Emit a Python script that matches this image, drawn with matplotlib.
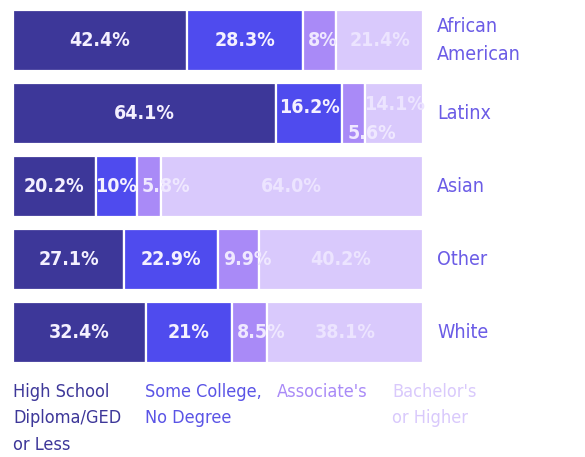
import matplotlib
matplotlib.use('Agg')
import matplotlib.pyplot as plt
import numpy as np

groups = ['African\nAmerican', 'Latinx', 'Asian', 'Other', 'White']
levels = ["High School\nDiploma/GED\nor Less", "Some College,\nNo Degree", "Associate's", "Bachelor's\nor Higher"]
hs = [42.4, 64.1, 20.2, 27.1, 32.4]
some_college = [28.3, 16.2, 10.0, 22.9, 21.0]
associates = [8.0, 5.6, 5.8, 9.9, 8.5]
bachelors = [21.4, 14.1, 64.0, 40.2, 38.1]
value_labels = [
    ['42.4%', '28.3%', '8%', '21.4%'],
    ['64.1%', '16.2%', '5.6%', '14.1%'],
    ['20.2%', '10%', '5.8%', '64.0%'],
    ['27.1%', '22.9%', '9.9%', '40.2%'],
    ['32.4%', '21%', '8.5%', '38.1%'],
]

colors = ['#3d3799', '#4f4bee', '#a98af7', '#d9c9fc']
text_colors = ['#f4f0ff', '#f4f0ff', '#efe8ff', '#ece4ff']
legend_colors = ['#3d3799', '#5a54e6', '#a98af7', '#d9c9fc']
cat_color = '#6b5ce6'

plt.rcParams['font.family'] = ['DejaVu Sans']
plt.rcParams['font.stretch'] = 'condensed'

W, H = 585, 457
fig = plt.figure(figsize=(W / 100, H / 100), dpi=100)
ax = fig.add_axes([13 / W, 1 - 363 / H, 410 / W, 353 / H])

series = [hs, some_college, associates, bachelors]
y = np.arange(len(groups))
bar_h = 61 / 73
left = np.zeros(len(groups))
for k, vals in enumerate(series):
    vals = np.array(vals)
    ax.barh(y, vals, left=left, height=bar_h, color=colors[k],
            edgecolor='white', linewidth=1.6)
    for i in range(len(groups)):
        dy = 0
        if value_labels[i][k] == '5.6%':
            dy = 0.28
        elif value_labels[i][k] == '14.1%':
            dy = -0.12
        elif value_labels[i][k] == '16.2%':
            dy = -0.08
        if vals[i] < 12 and k >= 1 and value_labels[i][k] != '10%':
            ax.text(left[i] + 1.2, y[i] + dy, value_labels[i][k], ha='left', va='center',
                    fontsize=14, fontweight='bold', color=text_colors[k])
        else:
            ax.text(left[i] + vals[i] / 2, y[i] + dy, value_labels[i][k], ha='center', va='center',
                    fontsize=14, fontweight='bold', color=text_colors[k])
    left += vals

for i, g in enumerate(groups):
    ax.text(103.4, y[i], g, ha='left', va='center', fontsize=14, color=cat_color,
            linespacing=1.55, clip_on=False)

ax.set_xlim(0, 100)
ax.set_ylim(4 + bar_h / 2, -bar_h / 2)
ax.axis('off')

legend_x = [13, 145, 277, 392]
for k, txt in enumerate(levels):
    fig.text(legend_x[k] / W, 1 - 383 / H, txt, ha='left', va='top', fontsize=13,
             color=legend_colors[k], linespacing=1.6)

fig.savefig('out.png', dpi=100)
